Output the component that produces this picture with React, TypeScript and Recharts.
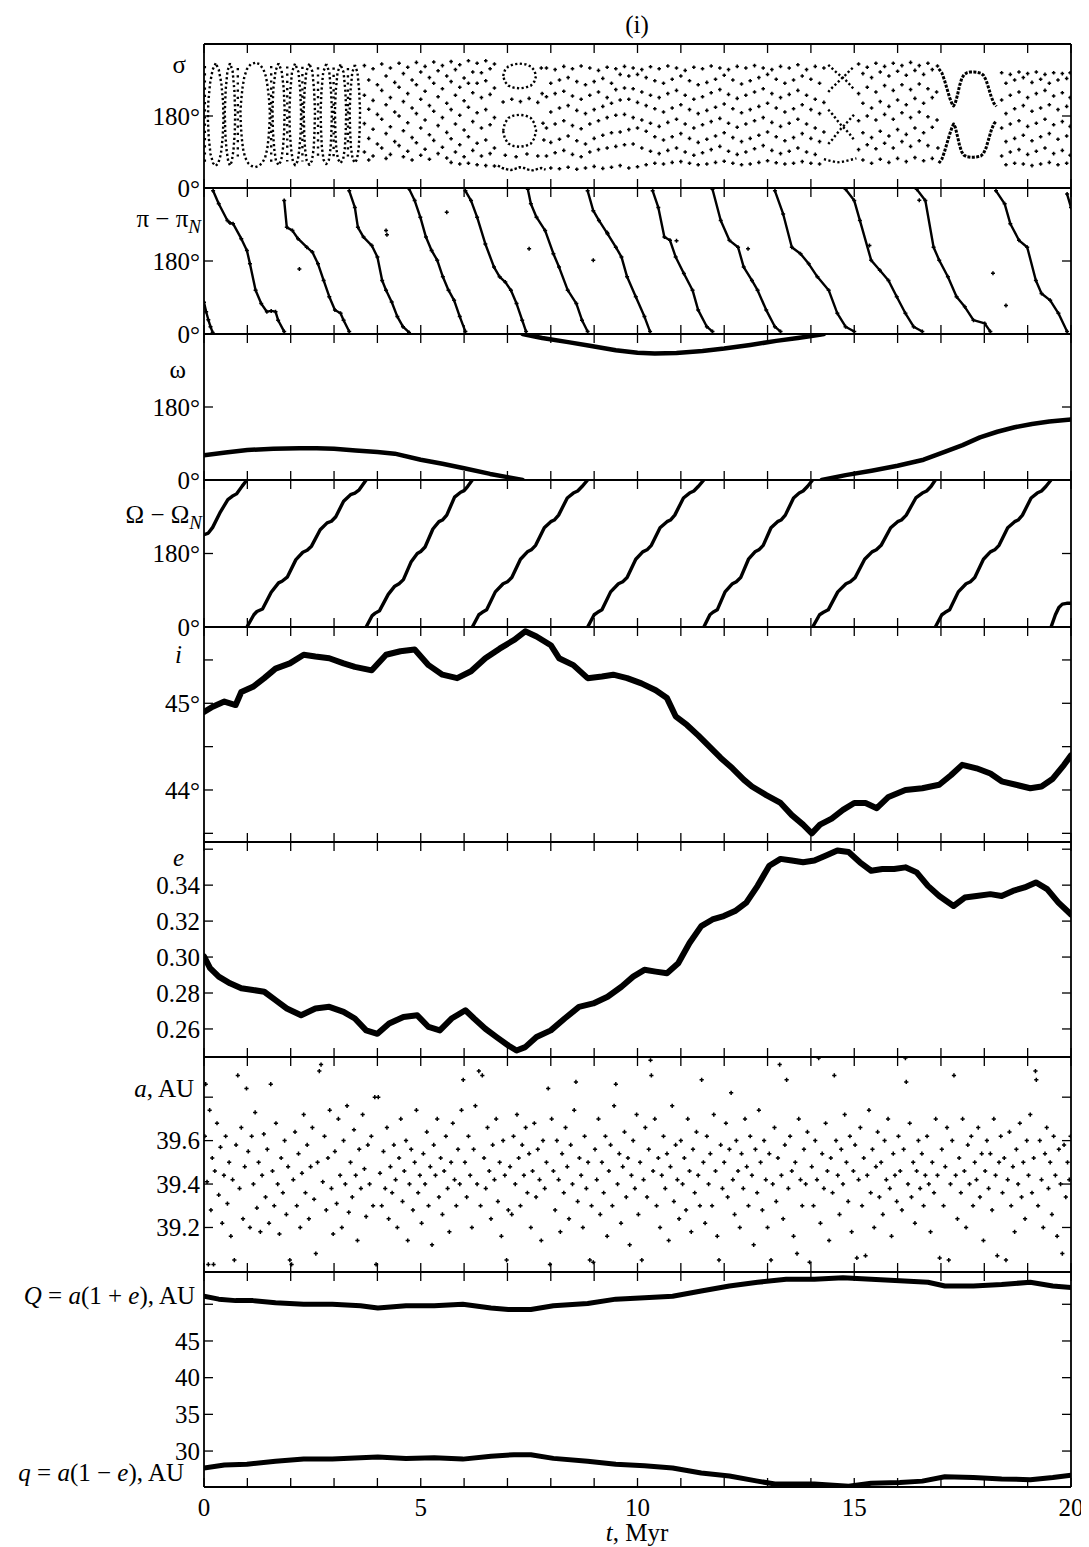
import React from 'react'
import { ScatterChart, Scatter, XAxis, YAxis } from 'recharts'

type Pt = [number, number]
type Col = [number, number[]]

const FONT = '"Liberation Serif", "Times New Roman", serif'

// time axis
const timeTicks = [0, 1, 2, 3, 4, 5, 6, 7, 8, 9, 10, 11, 12, 13, 14, 15, 16, 17, 18, 19, 20]
const timeLabels = [0, 5, 10, 15, 20]

// y ticks / labels per panel
const angleTicks = [0, 180, 360]
const angleLabels: [number, string][] = [[0, '0°'], [180, '180°']]
const incTicks = [43.5, 44, 44.5, 45, 45.5]
const incLabels: [number, string][] = [[44, '44°'], [45, '45°']]
const eccTicks = [0.26, 0.28, 0.3, 0.32, 0.34, 0.36]
const eccLabels: [number, string][] = [[0.26, '0.26'], [0.28, '0.28'], [0.3, '0.30'], [0.32, '0.32'], [0.34, '0.34']]
const axisTicks = [39.2, 39.4, 39.6, 39.8]
const axisLabels: [number, string][] = [[39.2, '39.2'], [39.4, '39.4'], [39.6, '39.6']]
const distTicks = [30, 35, 40, 45, 50]
const distLabels: [number, string][] = [[30, '30'], [35, '35'], [40, '40'], [45, '45']]

// sigma: libration loops on the left (t < 3.7), each traced round
const sigmaLoops: Pt[][] = [
  [[0.27, 312], [0.2, 296], [0.14, 262], [0.1, 215], [0.09, 170], [0.11, 125], [0.15, 85], [0.21, 62], [0.27, 55], [0.33, 62], [0.39, 85], [0.43, 125], [0.45, 170], [0.44, 215], [0.4, 262], [0.34, 296], [0.27, 312]],
  [[0.6, 312], [0.54, 292], [0.5, 245], [0.48, 190], [0.49, 138], [0.52, 95], [0.56, 66], [0.6, 56], [0.64, 66], [0.68, 95], [0.71, 138], [0.72, 190], [0.7, 245], [0.66, 292], [0.6, 312]],
  [[1.18, 313], [1.08, 310], [0.99, 297], [0.93, 278], [0.89, 252], [0.86, 222], [0.84, 190], [0.85, 158], [0.87, 126], [0.9, 98], [0.95, 76], [1.02, 62], [1.1, 55], [1.18, 52], [1.26, 55], [1.34, 62], [1.41, 76], [1.46, 98], [1.49, 126], [1.51, 158], [1.52, 190], [1.5, 222], [1.47, 252], [1.43, 278], [1.37, 297], [1.28, 310], [1.18, 313]],
  [[1.72, 312], [1.65, 293], [1.6, 248], [1.58, 196], [1.59, 142], [1.62, 98], [1.66, 68], [1.72, 57], [1.78, 68], [1.82, 98], [1.85, 142], [1.86, 196], [1.84, 248], [1.79, 293], [1.72, 312]],
  [[2.1, 311], [2.03, 290], [1.99, 242], [1.97, 190], [1.98, 140], [2.01, 97], [2.05, 67], [2.1, 57], [2.16, 67], [2.2, 97], [2.23, 140], [2.24, 190], [2.22, 242], [2.18, 290], [2.1, 311]],
  [[2.43, 311], [2.36, 291], [2.32, 244], [2.3, 192], [2.31, 142], [2.33, 99], [2.37, 68], [2.43, 58], [2.49, 68], [2.53, 99], [2.55, 142], [2.56, 192], [2.54, 244], [2.5, 291], [2.43, 311]],
  [[2.82, 310], [2.75, 290], [2.71, 243], [2.69, 193], [2.7, 143], [2.72, 100], [2.76, 70], [2.82, 60], [2.88, 70], [2.92, 100], [2.94, 143], [2.95, 193], [2.93, 243], [2.89, 290], [2.82, 310]],
  [[3.15, 309], [3.08, 289], [3.04, 243], [3.02, 193], [3.03, 143], [3.05, 101], [3.09, 72], [3.15, 62], [3.21, 72], [3.25, 101], [3.27, 143], [3.28, 193], [3.26, 243], [3.22, 289], [3.15, 309]],
  [[3.48, 308], [3.42, 289], [3.38, 243], [3.36, 193], [3.37, 143], [3.39, 101], [3.43, 72], [3.48, 63], [3.53, 72], [3.57, 101], [3.59, 143], [3.6, 193], [3.58, 243], [3.54, 289], [3.48, 308]],
]
// dotted columns between the loops
const sigmaStems: Pt[][] = [
  [[0.02, 305], [0.02, 65]], [[0.78, 300], [0.78, 70]], [[1.55, 305], [1.55, 64]], [[1.92, 304], [1.92, 66]],
  [[2.27, 303], [2.27, 66]], [[2.63, 302], [2.63, 68]], [[2.99, 301], [2.99, 70]], [[3.32, 300], [3.32, 72]],
]
// sigma: the two rings near 7.3 Myr and the strand below them
const ringTop: Pt[] = [[6.9, 280], [6.94, 294], [7.02, 304], [7.14, 309], [7.28, 311], [7.42, 309], [7.54, 304], [7.62, 294], [7.66, 280], [7.62, 266], [7.54, 256], [7.42, 251], [7.28, 249], [7.14, 251], [7.02, 256], [6.94, 266], [6.9, 280]]
const ringLow: Pt[] = [[6.9, 143], [6.94, 162], [7.02, 175], [7.14, 181], [7.28, 183], [7.42, 181], [7.54, 175], [7.62, 162], [7.66, 143], [7.62, 124], [7.54, 111], [7.42, 105], [7.28, 103], [7.14, 105], [7.02, 111], [6.94, 124], [6.9, 143]]
const ringBase: Pt[] = [[6.78, 56], [6.88, 50], [6.98, 47], [7.08, 45], [7.18, 48], [7.28, 52], [7.38, 50], [7.48, 46], [7.58, 44], [7.68, 47], [7.78, 50], [7.88, 46]]
const ringStray: Pt[] = [[6.9, 215], [7.1, 222], [7.3, 216], [7.5, 224], [7.7, 214], [6.95, 82], [7.2, 78], [7.45, 85], [7.7, 80], [7.78, 300], [7.8, 236], [7.82, 162], [7.84, 120]]
// sigma: crossing strands near 14.7 Myr
const crossStrands: Pt[][] = [
  [[14.4, 308], [14.5, 298], [14.6, 288], [14.7, 279], [14.8, 270], [14.9, 258], [15.0, 246]],
  [[14.4, 240], [14.5, 252], [14.6, 262], [14.7, 273], [14.8, 283], [14.9, 294], [15.0, 304]],
  [[14.4, 110], [14.5, 122], [14.6, 136], [14.7, 149], [14.8, 160], [14.9, 172], [15.0, 184]],
  [[14.4, 196], [14.5, 184], [14.6, 170], [14.7, 157], [14.8, 146], [14.9, 134], [15.0, 120]],
  [[14.3, 72], [14.45, 68], [14.6, 64], [14.75, 66], [14.9, 70], [15.05, 74]],
]
// sigma: the two bold lobes near 17.7 Myr
const lobeUpper: Pt[] = [[16.95, 298], [17.02, 288], [17.08, 270], [17.14, 248], [17.2, 226], [17.25, 212], [17.29, 205], [17.33, 212], [17.38, 232], [17.43, 256], [17.48, 274], [17.53, 283], [17.6, 288], [17.68, 290], [17.76, 290], [17.84, 289], [17.92, 287], [17.98, 282], [18.04, 270], [18.1, 250], [18.16, 228], [18.22, 212], [18.28, 204]]
const lobeLower: Pt[] = [[16.95, 62], [17.02, 72], [17.08, 90], [17.14, 112], [17.2, 134], [17.25, 150], [17.29, 160], [17.33, 152], [17.38, 130], [17.43, 106], [17.48, 90], [17.53, 82], [17.6, 78], [17.68, 77], [17.76, 77], [17.84, 78], [17.92, 80], [17.98, 86], [18.04, 100], [18.1, 122], [18.16, 144], [18.22, 160], [18.28, 168]]
const lobeStray: Pt[] = [[16.92, 305], [16.9, 240], [16.91, 170], [16.93, 100]]
// sigma: the braided band elsewhere, read column by column
const sigmaCols: Col[] = [
  [3.7, [306, 232, 161, 90]], [3.8, [270, 197, 124, 70]], [3.9, [298, 219, 147, 80]], [4.0, [258, 184, 110]],
  [4.1, [310, 244, 172, 100]], [4.2, [280, 208, 136, 74]], [4.3, [300, 226, 153, 84]], [4.4, [264, 190, 116]],
  [4.5, [312, 252, 180, 106]], [4.6, [286, 216, 143, 78]], [4.7, [302, 236, 163, 92]], [4.8, [270, 200, 126, 70]],
  [4.9, [314, 258, 186, 113]], [5.0, [290, 222, 150, 82]], [5.1, [304, 242, 170, 97]], [5.2, [276, 206, 133, 72]],
  [5.3, [315, 262, 192, 119]], [5.4, [293, 228, 156, 86]], [5.5, [306, 248, 176, 102]], [5.6, [280, 212, 139, 75]],
  [5.7, [316, 266, 196, 123, 64]], [5.8, [296, 232, 160, 90]], [5.9, [308, 252, 182, 108, 60]], [6.0, [275, 218, 145, 78]],
  [6.1, [318, 262, 202, 128, 62]], [6.2, [290, 238, 166, 94]], [6.3, [312, 262, 188, 112, 58]], [6.4, [288, 226, 150, 80]],
  [6.5, [318, 268, 196, 120, 56]], [6.6, [298, 234, 158, 86]], [6.7, [310, 250, 176, 100, 55]],
  [7.9, [300, 228, 150, 80]], [8.0, [262, 190, 114, 50]], [8.1, [296, 236, 160, 88]], [8.2, [270, 200, 122, 48]],
  [8.3, [304, 242, 168, 94]], [8.4, [276, 206, 130, 52]], [8.5, [298, 230, 156, 84]], [8.6, [266, 194, 118, 47]],
  [8.7, [305, 222, 148, 78]], [8.8, [258, 186, 110, 50]], [8.9, [300, 232, 160, 90]], [9.0, [266, 196, 124, 54]],
  [9.1, [294, 240, 168, 96]], [9.2, [274, 204, 132, 49]], [9.3, [302, 226, 176, 100]], [9.4, [262, 212, 138, 52]],
  [9.5, [298, 246, 182, 104]], [9.6, [284, 220, 140, 56]], [9.7, [304, 250, 184, 108]], [9.8, [280, 222, 146, 50]],
  [9.9, [300, 248, 176, 110]], [10.0, [284, 214, 150, 53]], [10.1, [296, 240, 170, 100]], [10.2, [276, 206, 142, 58]],
  [10.3, [303, 232, 162, 92]], [10.4, [268, 198, 128, 62]], [10.5, [298, 226, 154, 86]], [10.6, [262, 190, 120, 60]],
  [10.7, [305, 236, 164, 94]], [10.8, [272, 200, 128, 64]], [10.9, [300, 244, 172, 100]], [11.0, [280, 208, 136, 66]],
  [11.1, [294, 232, 160, 90]], [11.2, [268, 196, 124, 62]], [11.3, [302, 222, 150, 82]], [11.4, [258, 186, 114, 58]],
  [11.5, [298, 228, 158, 88]], [11.6, [264, 194, 122, 60]], [11.7, [305, 238, 166, 96]], [11.8, [272, 202, 130, 64]],
  [11.9, [300, 246, 174, 104]], [12.0, [282, 210, 138, 67]], [12.1, [296, 234, 162, 92]], [12.2, [270, 198, 126, 62]],
  [12.3, [304, 224, 152, 84]], [12.4, [260, 188, 116, 58]], [12.5, [300, 232, 160, 90]], [12.6, [268, 196, 124, 60]],
  [12.7, [306, 240, 168, 98]], [12.8, [276, 204, 132, 64]], [12.9, [300, 248, 176, 106]], [13.0, [284, 212, 140, 68]],
  [13.1, [296, 236, 164, 94]], [13.2, [272, 200, 128, 63]], [13.3, [304, 226, 154, 86]], [13.4, [262, 190, 118, 60]],
  [13.5, [300, 234, 162, 92]], [13.6, [270, 198, 126, 62]], [13.7, [308, 244, 172, 100]], [13.8, [280, 208, 136, 66]],
  [13.9, [296, 232, 160, 90]], [14.0, [272, 196, 124, 62]], [14.1, [304, 222, 150, 84]], [14.2, [262, 186, 116, 60]],
  [14.3, [300, 214, 140]],
  [15.1, [310, 236, 168, 96]], [15.2, [286, 212, 138, 70]], [15.3, [302, 252, 180, 108]], [15.4, [276, 200, 126, 62]],
  [15.5, [312, 240, 170, 98]], [15.6, [290, 216, 142, 72]], [15.7, [304, 256, 184, 112]], [15.8, [280, 204, 130, 64]],
  [15.9, [312, 244, 172, 100]], [16.0, [292, 220, 146, 74]], [16.1, [306, 258, 188, 116]], [16.2, [282, 208, 134, 66]],
  [16.3, [314, 246, 176, 104]], [16.4, [294, 224, 150, 76]], [16.5, [306, 260, 190, 118]], [16.6, [284, 212, 138, 68]],
  [16.7, [312, 248, 178, 106]], [16.8, [296, 226, 152, 74]],
  [18.4, [288, 220, 150, 80]], [18.5, [262, 186, 116, 58]], [18.6, [284, 232, 160, 90]], [18.7, [270, 198, 124, 62]],
  [18.8, [290, 240, 168, 96]], [18.9, [276, 206, 132, 60]], [19.0, [286, 226, 154, 84]], [19.1, [264, 192, 118, 56]],
  [19.2, [290, 236, 162, 92]], [19.3, [272, 200, 128, 60]], [19.4, [284, 244, 172, 100]], [19.5, [262, 208, 136, 64]],
  [19.6, [288, 230, 158, 86]], [19.7, [270, 196, 122, 58]], [19.8, [286, 238, 166, 94]], [19.9, [274, 204, 130, 62]],
  [19.98, [288, 226, 154, 82]],
]

// pi - pi_N: descending branches
const periBranches: Pt[][] = [
  [[0, 78], [0.05, 55], [0.1, 35], [0.15, 18], [0.2, 4]],
  [[0.21, 353], [0.34, 321], [0.54, 280], [0.6, 274], [0.67, 272], [0.86, 235], [0.99, 206], [1.06, 173], [1.19, 108], [1.32, 75], [1.45, 55], [1.55, 57], [1.65, 55], [1.71, 34], [1.85, 6]],
  [[1.85, 329], [1.91, 263], [2.04, 255], [2.17, 235], [2.37, 214], [2.5, 202], [2.63, 173], [2.76, 132], [2.89, 92], [3.02, 59], [3.15, 51], [3.22, 34], [3.35, 6]],
  [[3.35, 353], [3.48, 312], [3.55, 263], [3.68, 239], [3.87, 218], [4.0, 190], [4.11, 132], [4.2, 108], [4.33, 79], [4.46, 43], [4.59, 18], [4.73, 4]],
  [[4.73, 358], [4.86, 329], [4.99, 288], [5.12, 239], [5.25, 206], [5.38, 182], [5.51, 141], [5.64, 108], [5.77, 83], [5.9, 43], [6.03, 6]],
  [[6.03, 353], [6.16, 329], [6.3, 288], [6.49, 222], [6.69, 165], [6.82, 141], [6.95, 128], [7.08, 108], [7.21, 75], [7.34, 34], [7.43, 6]],
  [[7.47, 357], [7.54, 321], [7.67, 288], [7.87, 255], [8.06, 198], [8.19, 165], [8.39, 108], [8.59, 75], [8.72, 34], [8.85, 6]],
  [[8.85, 353], [8.98, 304], [9.11, 280], [9.31, 247], [9.5, 214], [9.63, 190], [9.76, 141], [9.96, 92], [10.16, 43], [10.29, 6]],
  [[10.35, 353], [10.48, 312], [10.62, 239], [10.75, 231], [10.88, 190], [11.07, 149], [11.27, 108], [11.4, 59], [11.6, 18], [11.73, 6]],
  [[11.73, 357], [11.92, 280], [12.12, 231], [12.32, 214], [12.45, 165], [12.64, 132], [12.77, 108], [12.97, 59], [13.17, 18], [13.3, 6]],
  [[13.17, 353], [13.36, 296], [13.56, 214], [13.76, 198], [13.95, 173], [14.15, 141], [14.41, 108], [14.61, 51], [14.8, 18], [15.0, 6]],
  [[14.8, 357], [15.0, 329], [15.13, 280], [15.39, 182], [15.59, 157], [15.79, 132], [15.98, 92], [16.18, 51], [16.37, 18], [16.57, 6]],
  [[16.44, 357], [16.64, 329], [16.83, 214], [16.96, 182], [17.16, 141], [17.36, 92], [17.55, 67], [17.75, 34], [18.01, 26], [18.14, 6]],
  [[18.27, 353], [18.47, 321], [18.6, 272], [18.8, 231], [18.99, 214], [19.19, 132], [19.32, 100], [19.52, 83], [19.71, 51], [19.91, 6]],
  [[19.91, 345], [20, 312]],
]
const periStray: Pt[] = [[4.2, 255], [4.22, 245], [7.5, 210], [8.98, 182], [9.3, 250], [10.9, 230], [12.55, 210], [15.35, 218], [16.5, 330], [18.2, 150], [18.5, 70], [2.2, 160], [5.6, 300]]

// omega: three pieces between wraps
const argLow: Pt[] = [[0, 61], [0.5, 68], [1.0, 74], [1.6, 77], [2.2, 78], [2.6, 78], [3.0, 77], [3.5, 73], [4.0, 69], [4.4, 65], [5.0, 50], [5.5, 40], [6.0, 29], [6.6, 15], [7.0, 7], [7.35, 0]]
const argHigh: Pt[] = [[7.35, 360], [7.8, 350], [8.4, 340], [8.9, 331], [9.5, 320], [10.0, 314], [10.4, 312], [10.9, 313], [11.5, 318], [12.0, 324], [12.6, 333], [13.2, 343], [13.7, 350], [14.2, 358], [14.3, 360]]
const argRise: Pt[] = [[14.25, 0], [14.8, 12], [15.4, 23], [16.0, 35], [16.6, 50], [17.1, 70], [17.5, 86], [17.9, 105], [18.3, 119], [18.7, 130], [19.1, 138], [19.5, 144], [20, 149]]

// Omega - Omega_N: rising staircase branches
const nodeBranches: Pt[][] = [
  [[0, 226], [0.1, 230], [0.2, 244], [0.38, 282], [0.55, 312], [0.65, 320], [0.75, 326], [0.88, 345], [0.99, 360]],
  [[0.99, 0], [1.15, 30], [1.22, 38], [1.35, 44], [1.55, 85], [1.72, 108], [1.8, 112], [1.92, 122], [2.12, 165], [2.28, 183], [2.38, 188], [2.48, 198], [2.68, 238], [2.84, 255], [2.94, 259], [3.04, 270], [3.22, 308], [3.38, 324], [3.48, 328], [3.58, 336], [3.74, 360]],
  [[3.74, 0], [3.88, 28], [3.95, 34], [4.05, 40], [4.25, 80], [4.4, 100], [4.5, 106], [4.6, 116], [4.78, 160], [4.92, 180], [5.0, 185], [5.1, 196], [5.28, 240], [5.42, 258], [5.5, 262], [5.6, 274], [5.78, 318], [5.92, 330], [6.0, 334], [6.08, 344], [6.19, 360]],
  [[6.19, 0], [6.34, 30], [6.42, 36], [6.52, 42], [6.72, 86], [6.9, 106], [7.0, 111], [7.1, 121], [7.3, 166], [7.46, 184], [7.55, 189], [7.65, 200], [7.85, 243], [8.0, 258], [8.08, 262], [8.18, 274], [8.38, 316], [8.52, 328], [8.62, 333], [8.72, 344], [8.85, 360]],
  [[8.85, 0], [9.0, 30], [9.08, 36], [9.18, 42], [9.38, 86], [9.56, 106], [9.66, 111], [9.76, 121], [9.96, 166], [10.12, 184], [10.22, 189], [10.32, 200], [10.52, 243], [10.68, 258], [10.76, 262], [10.86, 274], [11.06, 316], [11.2, 328], [11.3, 333], [11.4, 344], [11.53, 360]],
  [[11.53, 0], [11.67, 30], [11.74, 36], [11.84, 42], [12.02, 86], [12.19, 106], [12.28, 111], [12.38, 121], [12.56, 166], [12.71, 184], [12.8, 189], [12.9, 200], [13.08, 243], [13.23, 258], [13.31, 262], [13.41, 274], [13.6, 316], [13.73, 328], [13.82, 333], [13.92, 344], [14.04, 360]],
  [[14.04, 0], [14.2, 30], [14.29, 36], [14.4, 42], [14.62, 86], [14.81, 106], [14.91, 111], [15.02, 121], [15.24, 166], [15.41, 184], [15.51, 189], [15.62, 200], [15.84, 243], [16.0, 258], [16.09, 262], [16.2, 274], [16.42, 316], [16.57, 328], [16.67, 333], [16.77, 344], [16.87, 360]],
  [[16.87, 0], [17.02, 30], [17.1, 36], [17.2, 42], [17.4, 86], [17.58, 106], [17.68, 111], [17.78, 121], [17.98, 166], [18.14, 184], [18.24, 189], [18.34, 200], [18.54, 243], [18.7, 258], [18.78, 262], [18.88, 274], [19.08, 316], [19.22, 328], [19.32, 333], [19.42, 344], [19.54, 360]],
  [[19.54, 0], [19.64, 30], [19.72, 48], [19.8, 56], [19.9, 58], [20, 58]],
]

// inclination, deg
const incl: Pt[] = [
  [0, 44.9], [0.2, 44.96], [0.47, 45.02], [0.73, 44.98], [0.86, 45.13], [1.13, 45.19], [1.39, 45.29], [1.65, 45.4], [1.98, 45.46], [2.3, 45.56], [2.57, 45.54], [2.89, 45.52], [3.22, 45.46], [3.48, 45.42], [3.87, 45.38], [4.2, 45.56], [4.53, 45.6], [4.86, 45.62], [5.18, 45.44], [5.5, 45.33], [5.84, 45.29], [6.16, 45.37], [6.49, 45.52], [6.82, 45.63], [7.15, 45.73], [7.41, 45.83], [7.67, 45.77], [8.0, 45.67], [8.19, 45.52], [8.52, 45.44], [8.85, 45.29], [9.18, 45.31], [9.44, 45.33], [9.76, 45.29], [10.09, 45.23], [10.42, 45.15], [10.68, 45.06], [10.88, 44.85], [11.14, 44.75], [11.4, 44.63], [11.66, 44.5], [11.92, 44.37], [12.19, 44.25], [12.45, 44.12], [12.64, 44.04], [12.97, 43.94], [13.3, 43.85], [13.56, 43.71], [13.82, 43.6], [14.02, 43.5], [14.21, 43.6], [14.48, 43.67], [14.74, 43.77], [15.0, 43.85], [15.26, 43.85], [15.52, 43.79], [15.79, 43.92], [16.18, 44.0], [16.57, 44.02], [16.96, 44.06], [17.23, 44.17], [17.49, 44.29], [17.82, 44.25], [18.14, 44.19], [18.4, 44.1], [18.73, 44.06], [19.06, 44.02], [19.32, 44.04], [19.58, 44.13], [19.84, 44.29], [20, 44.4],
]

// eccentricity
const ecc: Pt[] = [
  [0, 0.3004], [0.14, 0.2938], [0.34, 0.2891], [0.6, 0.2854], [0.86, 0.2826], [1.13, 0.2817], [1.39, 0.2807], [1.65, 0.276], [1.91, 0.2714], [2.24, 0.2676], [2.57, 0.2714], [2.89, 0.2723], [3.22, 0.2695], [3.48, 0.2658], [3.74, 0.2592], [4.0, 0.2573], [4.27, 0.263], [4.6, 0.2667], [4.92, 0.2676], [5.18, 0.2611], [5.44, 0.2592], [5.71, 0.2658], [6.03, 0.2704], [6.23, 0.2658], [6.49, 0.2601], [6.75, 0.2555], [7.02, 0.2508], [7.21, 0.248], [7.41, 0.2499], [7.67, 0.2555], [8.0, 0.2592], [8.32, 0.2658], [8.65, 0.2723], [8.98, 0.2742], [9.31, 0.2779], [9.63, 0.2835], [9.9, 0.2891], [10.16, 0.2929], [10.42, 0.2919], [10.68, 0.291], [10.94, 0.2966], [11.2, 0.3078], [11.47, 0.3172], [11.73, 0.3209], [11.99, 0.3228], [12.25, 0.3256], [12.51, 0.3303], [12.77, 0.3396], [13.04, 0.3508], [13.3, 0.3546], [13.56, 0.3537], [13.82, 0.3527], [14.08, 0.3537], [14.35, 0.3565], [14.61, 0.3593], [14.87, 0.3584], [15.13, 0.3527], [15.39, 0.348], [15.65, 0.349], [15.92, 0.349], [16.18, 0.3499], [16.44, 0.3471], [16.7, 0.3396], [16.96, 0.334], [17.29, 0.3284], [17.55, 0.3331], [17.82, 0.334], [18.14, 0.335], [18.4, 0.334], [18.66, 0.3368], [18.93, 0.3387], [19.19, 0.3415], [19.45, 0.3378], [19.71, 0.3303], [20, 0.3237],
]

// semimajor axis, AU
const semi: Pt[] = [
  [0.02, 39.62], [0.04, 39.86], [0.07, 39.41], [0.1, 39.03], [0.13, 39.74], [0.16, 39.28], [0.19, 39.52], [0.22, 39.03], [0.25, 39.46], [0.3, 39.68], [0.34, 39.35], [0.38, 39.57], [0.42, 39.22], [0.46, 39.44], [0.5, 39.62], [0.54, 39.31], [0.58, 39.5], [0.62, 39.16], [0.66, 39.42], [0.7, 39.05], [0.74, 39.58], [0.78, 39.9], [0.82, 39.38], [0.86, 39.66], [0.9, 39.24], [0.94, 39.48], [0.98, 39.84],
  [1.02, 39.55], [1.06, 39.2], [1.1, 39.62], [1.14, 39.4], [1.18, 39.73], [1.22, 39.29], [1.26, 39.5], [1.3, 39.18], [1.34, 39.44], [1.38, 39.63], [1.42, 39.34], [1.46, 39.56], [1.5, 39.22], [1.54, 39.86], [1.58, 39.46], [1.62, 39.3], [1.66, 39.68], [1.7, 39.4], [1.74, 39.17], [1.78, 39.52], [1.82, 39.36], [1.86, 39.6], [1.9, 39.26], [1.94, 39.48], [1.98, 39.05],
  [2.02, 39.03], [2.06, 39.42], [2.1, 39.64], [2.14, 39.3], [2.18, 39.54], [2.22, 39.2], [2.26, 39.45], [2.3, 39.72], [2.34, 39.36], [2.38, 39.58], [2.42, 39.24], [2.46, 39.48], [2.5, 39.66], [2.54, 39.33], [2.58, 39.08], [2.62, 39.5], [2.66, 39.92], [2.7, 39.95], [2.74, 39.41], [2.78, 39.62], [2.82, 39.28], [2.86, 39.52], [2.9, 39.74], [2.94, 39.38], [2.98, 39.17],
  [3.02, 39.55], [3.06, 39.31], [3.1, 39.7], [3.14, 39.44], [3.18, 39.2], [3.22, 39.6], [3.26, 39.4], [3.3, 39.76], [3.34, 39.27], [3.38, 39.5], [3.42, 39.34], [3.46, 39.65], [3.5, 39.44], [3.54, 39.14], [3.58, 39.56], [3.62, 39.38], [3.66, 39.72], [3.7, 39.47], [3.74, 39.25], [3.78, 39.58], [3.82, 39.4], [3.86, 39.62], [3.9, 39.3], [3.94, 39.8], [3.97, 39.03],
  [4.02, 39.8], [4.06, 39.45], [4.1, 39.3], [4.14, 39.55], [4.18, 39.38], [4.22, 39.66], [4.26, 39.24], [4.3, 39.48], [4.34, 39.36], [4.38, 39.58], [4.42, 39.42], [4.46, 39.2], [4.5, 39.52], [4.54, 39.7], [4.58, 39.32], [4.62, 39.46], [4.66, 39.6], [4.7, 39.14], [4.74, 39.4], [4.78, 39.56], [4.82, 39.28], [4.86, 39.5], [4.9, 39.74], [4.94, 39.36], [4.98, 39.44],
  [5.02, 39.22], [5.06, 39.54], [5.1, 39.4], [5.14, 39.64], [5.18, 39.3], [5.22, 39.48], [5.26, 39.12], [5.3, 39.58], [5.34, 39.44], [5.38, 39.7], [5.42, 39.34], [5.46, 39.52], [5.5, 39.26], [5.54, 39.46], [5.58, 39.62], [5.62, 39.38], [5.66, 39.18], [5.7, 39.5], [5.74, 39.68], [5.78, 39.42], [5.82, 39.3], [5.86, 39.56], [5.9, 39.4], [5.94, 39.74], [5.98, 39.88],
  [6.02, 39.5], [6.06, 39.34], [6.1, 39.62], [6.14, 39.44], [6.18, 39.2], [6.22, 39.56], [6.26, 39.76], [6.3, 39.4], [6.34, 39.92], [6.38, 39.3], [6.42, 39.9], [6.46, 39.52], [6.5, 39.38], [6.54, 39.66], [6.58, 39.46], [6.62, 39.24], [6.66, 39.58], [6.7, 39.42], [6.74, 39.7], [6.78, 39.32], [6.82, 39.5], [6.86, 39.16], [6.9, 39.6], [6.94, 39.44], [6.98, 39.05],
  [7.02, 39.28], [7.06, 39.48], [7.1, 39.26], [7.14, 39.62], [7.18, 39.4], [7.22, 39.72], [7.26, 39.52], [7.3, 39.3], [7.34, 39.58], [7.38, 39.44], [7.42, 39.66], [7.46, 39.36], [7.5, 39.54], [7.54, 39.2], [7.58, 39.46], [7.62, 39.68], [7.66, 39.34], [7.7, 39.56], [7.74, 39.42], [7.78, 39.14], [7.82, 39.6], [7.86, 39.38], [7.9, 39.5], [7.94, 39.84], [7.98, 39.03],
  [8.02, 39.7], [8.06, 39.46], [8.1, 39.28], [8.14, 39.6], [8.18, 39.42], [8.22, 39.18], [8.26, 39.54], [8.3, 39.36], [8.34, 39.66], [8.38, 39.48], [8.42, 39.24], [8.46, 39.58], [8.5, 39.4], [8.54, 39.74], [8.58, 39.87], [8.62, 39.32], [8.66, 39.52], [8.7, 39.44], [8.74, 39.2], [8.78, 39.62], [8.82, 39.38], [8.86, 39.5], [8.9, 39.05], [8.94, 39.3], [8.98, 39.04],
  [9.02, 39.56], [9.06, 39.42], [9.1, 39.7], [9.14, 39.26], [9.18, 39.5], [9.22, 39.36], [9.26, 39.62], [9.3, 39.16], [9.34, 39.46], [9.38, 39.58], [9.42, 39.3], [9.46, 39.76], [9.5, 39.86], [9.54, 39.4], [9.58, 39.54], [9.62, 39.22], [9.66, 39.48], [9.7, 39.64], [9.74, 39.34], [9.78, 39.52], [9.82, 39.12], [9.86, 39.44], [9.9, 39.6], [9.94, 39.38], [9.98, 39.72],
  [10.02, 39.26], [10.06, 39.5], [10.1, 39.05], [10.14, 39.42], [10.18, 39.66], [10.22, 39.34], [10.26, 39.56], [10.3, 39.97], [10.32, 39.9], [10.36, 39.46], [10.4, 39.7], [10.44, 39.3], [10.48, 39.52], [10.52, 39.2], [10.56, 39.44], [10.6, 39.62], [10.64, 39.38], [10.68, 39.54], [10.72, 39.14], [10.76, 39.48], [10.8, 39.76], [10.84, 39.32], [10.88, 39.58], [10.92, 39.42], [10.96, 39.24],
  [11.0, 39.6], [11.04, 39.4], [11.08, 39.52], [11.12, 39.28], [11.16, 39.7], [11.2, 39.46], [11.24, 39.18], [11.28, 39.56], [11.32, 39.36], [11.36, 39.64], [11.4, 39.44], [11.44, 39.3], [11.48, 39.88], [11.52, 39.5], [11.56, 39.22], [11.6, 39.62], [11.64, 39.4], [11.68, 39.54], [11.72, 39.3], [11.76, 39.72], [11.8, 39.46], [11.84, 39.16], [11.88, 39.05], [11.92, 39.58], [11.96, 39.38],
  [12.0, 39.5], [12.04, 39.68], [12.08, 39.34], [12.12, 39.56], [12.16, 39.82], [12.2, 39.42], [12.24, 39.26], [12.28, 39.6], [12.32, 39.46], [12.36, 39.2], [12.4, 39.54], [12.44, 39.38], [12.48, 39.7], [12.52, 39.48], [12.56, 39.3], [12.6, 39.62], [12.64, 39.44], [12.68, 39.12], [12.72, 39.56], [12.76, 39.36], [12.8, 39.74], [12.84, 39.5], [12.88, 39.28], [12.92, 39.6], [12.96, 39.42],
  [13.0, 39.2], [13.04, 39.54], [13.08, 39.05], [13.12, 39.4], [13.16, 39.66], [13.2, 39.32], [13.24, 39.52], [13.28, 39.95], [13.32, 39.44], [13.36, 39.24], [13.4, 39.58], [13.44, 39.88], [13.48, 39.38], [13.52, 39.62], [13.56, 39.46], [13.6, 39.16], [13.64, 39.5], [13.68, 39.08], [13.72, 39.7], [13.76, 39.42], [13.8, 39.3], [13.84, 39.56], [13.88, 39.4], [13.92, 39.64], [13.97, 39.04],
  [14.02, 39.48], [14.06, 39.3], [14.1, 39.6], [14.14, 39.42], [14.18, 39.98], [14.22, 39.22], [14.26, 39.54], [14.3, 39.38], [14.34, 39.68], [14.38, 39.46], [14.42, 39.14], [14.46, 39.52], [14.5, 39.36], [14.54, 39.9], [14.58, 39.6], [14.62, 39.44], [14.66, 39.26], [14.7, 39.56], [14.74, 39.4], [14.78, 39.72], [14.82, 39.5], [14.86, 39.32], [14.9, 39.62], [14.94, 39.18], [14.98, 39.46],
  [15.02, 39.58], [15.06, 39.06], [15.1, 39.42], [15.14, 39.66], [15.18, 39.3], [15.22, 39.52], [15.26, 39.07], [15.3, 39.44], [15.34, 39.74], [15.38, 39.36], [15.42, 39.56], [15.46, 39.2], [15.5, 39.48], [15.54, 39.64], [15.58, 39.34], [15.62, 39.5], [15.66, 39.26], [15.7, 39.6], [15.74, 39.42], [15.78, 39.7], [15.82, 39.38], [15.86, 39.16], [15.9, 39.54], [15.94, 39.44], [15.98, 39.32],
  [16.02, 39.62], [16.06, 39.46], [16.1, 39.28], [16.14, 39.56], [16.18, 39.98], [16.2, 39.87], [16.24, 39.4], [16.28, 39.68], [16.32, 39.34], [16.36, 39.5], [16.4, 39.22], [16.44, 39.46], [16.48, 39.6], [16.52, 39.38], [16.56, 39.54], [16.6, 39.3], [16.64, 39.44], [16.68, 39.62], [16.72, 39.4], [16.76, 39.18], [16.8, 39.5], [16.84, 39.36], [16.88, 39.7], [16.92, 39.44], [16.97, 39.06],
  [17.02, 39.56], [17.06, 39.3], [17.1, 39.48], [17.14, 39.66], [17.18, 39.05], [17.22, 39.4], [17.26, 39.6], [17.3, 39.9], [17.34, 39.44], [17.38, 39.24], [17.42, 39.52], [17.46, 39.36], [17.5, 39.7], [17.54, 39.46], [17.58, 39.2], [17.62, 39.58], [17.66, 39.4], [17.7, 39.62], [17.74, 39.3], [17.78, 39.5], [17.82, 39.42], [17.86, 39.66], [17.9, 39.34], [17.94, 39.54], [17.98, 39.14],
  [18.02, 39.46], [18.06, 39.6], [18.1, 39.38], [18.14, 39.54], [18.18, 39.28], [18.22, 39.7], [18.26, 39.44], [18.3, 39.07], [18.34, 39.5], [18.38, 39.62], [18.42, 39.36], [18.46, 39.52], [18.5, 39.05], [18.54, 39.42], [18.58, 39.64], [18.62, 39.3], [18.66, 39.48], [18.7, 39.18], [18.74, 39.56], [18.78, 39.4], [18.82, 39.68], [18.86, 39.34], [18.9, 39.5], [18.94, 39.24], [18.98, 39.6],
  [19.02, 39.44], [19.06, 39.72], [19.1, 39.36], [19.14, 39.52], [19.18, 39.92], [19.2, 39.88], [19.24, 39.3], [19.28, 39.6], [19.32, 39.42], [19.36, 39.2], [19.4, 39.54], [19.44, 39.66], [19.48, 39.38], [19.52, 39.5], [19.56, 39.26], [19.6, 39.62], [19.64, 39.44], [19.68, 39.16], [19.72, 39.56], [19.76, 39.4], [19.8, 39.08], [19.84, 39.58], [19.88, 39.34], [19.92, 39.5], [19.96, 39.42], [19.99, 39.62],
]

// aphelion Q and perihelion q, AU
const aphelion: Pt[] = [
  [0, 51.1], [0.34, 50.7], [0.73, 50.5], [1.13, 50.5], [1.65, 50.2], [2.3, 50.0], [2.96, 50.0], [3.61, 49.8], [4.01, 49.5], [4.66, 49.8], [5.31, 49.8], [5.97, 50.0], [6.62, 49.5], [7.02, 49.3], [7.54, 49.3], [8.06, 49.8], [8.85, 50.1], [9.5, 50.7], [10.16, 50.9], [10.81, 51.1], [11.47, 51.8], [12.12, 52.5], [12.77, 53.0], [13.43, 53.4], [14.08, 53.4], [14.74, 53.6], [15.39, 53.4], [16.05, 53.2], [16.7, 53.0], [17.09, 52.5], [17.75, 52.5], [18.4, 52.7], [19.06, 53.0], [19.58, 52.5], [20, 52.3],
]
const perihelion: Pt[] = [
  [0, 27.7], [0.47, 28.1], [0.99, 28.2], [1.65, 28.6], [2.3, 28.9], [2.96, 28.9], [3.61, 29.1], [4.01, 29.2], [4.66, 29.0], [5.31, 29.1], [5.97, 28.9], [6.62, 29.3], [7.15, 29.5], [7.54, 29.5], [8.06, 29.0], [8.85, 28.6], [9.5, 28.2], [10.16, 28.0], [10.81, 27.7], [11.47, 27.0], [12.12, 26.6], [12.77, 25.9], [13.17, 25.5], [14.08, 25.5], [14.87, 25.2], [15.39, 25.6], [16.05, 25.7], [16.57, 25.9], [17.09, 26.5], [17.75, 26.4], [18.4, 26.2], [19.06, 26.1], [19.58, 26.4], [20, 26.7],
]

const toXY = (pts: Pt[]) => pts.map(([x, y]) => ({ x, y }))
const fromCols = (cols: Col[]) => cols.flatMap(([t, vs]) => vs.map((v) => ({ x: t, y: v })))

const cross = (s: number) => (p: any) => (
  <path d={`M${p.cx - s},${p.cy}H${p.cx + s}M${p.cx},${p.cy - s}V${p.cy + s}`} stroke="#000" strokeWidth={1.5} fill="none" />
)
const noDot = () => <g />

const findLabel = (list: [number, string][], v: number) => {
  const hit = list.find(([k]) => Math.abs(k - v) < 1e-9)
  return hit ? hit[1] : ''
}

const W = 1081
const PAGE = 8

function Panel({ top, height, domain, ticks, labels, xLabels, children }: any) {
  const mt = 16
  const mb = xLabels ? 60 : 16
  const h = height + mt + mb + 2

  const bottomTick = (p: any) => {
    const show = xLabels && timeLabels.includes(p.payload.value)
    return (
      <g>
        <line x1={p.x} x2={p.x} y1={p.y} y2={p.y - 9} stroke="#000" strokeWidth={1.3} />
        {show && (
          <text x={p.x} y={p.y + 29} textAnchor="middle" fontSize={25} fontFamily={FONT} fill="#000">
            {p.payload.value}
          </text>
        )}
      </g>
    )
  }
  const topTick = (p: any) => <line x1={p.x} x2={p.x} y1={p.y} y2={p.y + 9} stroke="#000" strokeWidth={1.3} />
  const leftTick = (p: any) => {
    const lab = findLabel(labels, p.payload.value)
    return (
      <g>
        <line x1={p.x} x2={p.x + 9} y1={p.y} y2={p.y} stroke="#000" strokeWidth={1.3} />
        {lab && (
          <text x={p.x - 4} y={p.y} dy="0.35em" textAnchor="end" fontSize={25} fontFamily={FONT} fill="#000">
            {lab}
          </text>
        )}
      </g>
    )
  }
  const rightTick = (p: any) => <line x1={p.x} x2={p.x - 9} y1={p.y} y2={p.y} stroke="#000" strokeWidth={1.3} />

  const frame = { stroke: '#000', strokeWidth: 1.8 }
  return (
    <div style={{ position: 'absolute', left: 0, top: top - PAGE - mt - 1 }}>
      <ScatterChart width={W} height={h} margin={{ top: mt, right: 17, bottom: mb, left: 0 }}>
        <XAxis xAxisId="b" orientation="bottom" type="number" dataKey="x" domain={[0, 20]} ticks={timeTicks}
          interval={0} height={1} tickSize={0} tickMargin={0} tickLine={false} axisLine={frame} tick={bottomTick} allowDataOverflow />
        <XAxis xAxisId="t" orientation="top" type="number" dataKey="x" domain={[0, 20]} ticks={timeTicks}
          interval={0} height={1} tickSize={0} tickMargin={0} tickLine={false} axisLine={frame} tick={topTick} allowDataOverflow />
        <YAxis yAxisId="l" orientation="left" type="number" dataKey="y" domain={domain} ticks={ticks}
          interval={0} width={196} tickSize={0} tickMargin={0} tickLine={false} axisLine={frame} tick={leftTick} allowDataOverflow />
        <YAxis yAxisId="r" orientation="right" type="number" dataKey="y" domain={domain} ticks={ticks}
          interval={0} width={1} tickSize={0} tickMargin={0} tickLine={false} axisLine={frame} tick={rightTick} allowDataOverflow />
        {children}
      </ScatterChart>
    </div>
  )
}

function dotSeries(key: string, data: any[], s: number) {
  return <Scatter key={key} xAxisId="b" yAxisId="l" data={data} shape={cross(s)} isAnimationActive={false} />
}
function lineSeries(key: string, data: any[], w: number, s = 0, dash?: string) {
  return (
    <Scatter key={key} xAxisId="b" yAxisId="l" data={data} shape={s ? cross(s) : noDot} isAnimationActive={false}
      line={{ stroke: '#000', strokeWidth: w, strokeLinejoin: 'round', strokeLinecap: dash ? 'butt' : 'round', strokeDasharray: dash }}
      lineType="joint" />
  )
}

function Label({ x, y, anchor = 'end', children }: any) {
  return (
    <text x={x - PAGE} y={y - PAGE} dy="0.35em" textAnchor={anchor} fontSize={25} fontFamily={FONT} fill="#000">
      {children}
    </text>
  )
}

export default function App() {
  return (
    <div style={{ position: 'relative', width: 1073, height: 1539, background: '#fff' }}>
      <Panel top={44} height={144} domain={[0, 360]} ticks={angleTicks} labels={angleLabels}>
        {sigmaLoops.map((l, i) => lineSeries('sl' + i, toXY(l), 2.4, 0, '2.2 2.6'))}
        {sigmaStems.map((l, i) => lineSeries('ss' + i, toXY(l), 2.4, 0, '2.2 5'))}
        {lineSeries('rt', toXY(ringTop), 2.4, 0, '2.2 2.4')}
        {lineSeries('rl', toXY(ringLow), 2.4, 0, '2.2 2.4')}
        {lineSeries('rb', toXY(ringBase), 2.4, 0, '2.4 2')}
        {dotSeries('rs', toXY(ringStray), 1.8)}
        {crossStrands.map((l, i) => lineSeries('cs' + i, toXY(l), 2.4, 0, '2.2 2.4'))}
        {lineSeries('lu', toXY(lobeUpper), 3, 0, '3 1.4')}
        {lineSeries('ll', toXY(lobeLower), 3, 0, '3 1.4')}
        {dotSeries('ls', toXY(lobeStray), 1.8)}
        {dotSeries('sc', fromCols(sigmaCols), 1.8)}
      </Panel>
      <Panel top={188} height={146} domain={[0, 360]} ticks={angleTicks} labels={angleLabels}>
        {periBranches.map((b, i) => lineSeries('pb' + i, toXY(b), 2.4, 2))}
        {dotSeries('ps', toXY(periStray), 2)}
      </Panel>
      <Panel top={334} height={146} domain={[0, 360]} ticks={angleTicks} labels={angleLabels}>
        {lineSeries('w1', toXY(argLow), 4.5)}
        {lineSeries('w2', toXY(argHigh), 4.5)}
        {lineSeries('w3', toXY(argRise), 4.5)}
      </Panel>
      <Panel top={480} height={147} domain={[0, 360]} ticks={angleTicks} labels={angleLabels}>
        {nodeBranches.map((b, i) => lineSeries('nb' + i, toXY(b), 3.4))}
      </Panel>
      <Panel top={627} height={215} domain={[43.4, 45.88]} ticks={incTicks} labels={incLabels}>
        {lineSeries('inc', toXY(incl), 6)}
      </Panel>
      <Panel top={842} height={215} domain={[0.2444, 0.364]} ticks={eccTicks} labels={eccLabels}>
        {lineSeries('ecc', toXY(ecc), 6)}
      </Panel>
      <Panel top={1057} height={215} domain={[38.995, 39.985]} ticks={axisTicks} labels={axisLabels}>
        {dotSeries('a', toXY(semi), 2.1)}
      </Panel>
      <Panel top={1272} height={215} domain={[25.1, 54.4]} ticks={distTicks} labels={distLabels} xLabels>
        {lineSeries('Q', toXY(aphelion), 5)}
        {lineSeries('q', toXY(perihelion), 5)}
      </Panel>

      <svg width={1073} height={1539} style={{ position: 'absolute', left: 0, top: 0, pointerEvents: 'none', overflow: 'visible' }}>
        <Label x={637} y={24} anchor="middle">(i)</Label>
        <Label x={186} y={64}>σ</Label>
        <Label x={201} y={218}>π − π<tspan fontStyle="italic" fontSize={19} dy={6}>N</tspan></Label>
        <Label x={186} y={369}>ω</Label>
        <Label x={202} y={514}>Ω − Ω<tspan fontStyle="italic" fontSize={19} dy={6}>N</tspan></Label>
        <Label x={182} y={654}><tspan fontStyle="italic">i</tspan></Label>
        <Label x={184} y={857}><tspan fontStyle="italic">e</tspan></Label>
        <Label x={194} y={1088}><tspan fontStyle="italic">a</tspan>, AU</Label>
        <Label x={195} y={1295}><tspan fontStyle="italic">Q</tspan> = <tspan fontStyle="italic">a</tspan>(1 + <tspan fontStyle="italic">e</tspan>), AU</Label>
        <Label x={184} y={1472}><tspan fontStyle="italic">q</tspan> = <tspan fontStyle="italic">a</tspan>(1 − <tspan fontStyle="italic">e</tspan>), AU</Label>
        <Label x={637} y={1532} anchor="middle"><tspan fontStyle="italic">t</tspan>, Myr</Label>
      </svg>
    </div>
  )
}
